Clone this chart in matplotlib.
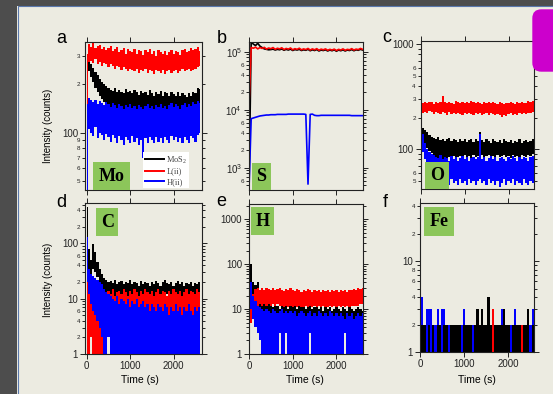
import numpy as np
import matplotlib
matplotlib.use("Agg")
import matplotlib.pyplot as plt
from matplotlib.patches import Rectangle, FancyBboxPatch
from matplotlib.lines import Line2D
from matplotlib.ticker import FixedLocator, FuncFormatter

plt.rcParams["font.family"] = ["Liberation Sans", "DejaVu Sans"]
plt.rcParams["mathtext.default"] = "regular"

W, H = 553, 394

# ---------------------------------------------------------------------------
# Data: counts in 50 s bins.
# Noisy traces are kept as (low, high) envelopes of each bin.
# ---------------------------------------------------------------------------
TIME = np.arange(0, 2601, 50)

# (a) Mo
mo_mos2_hi = [280, 285, 268, 252, 238, 228, 215, 205, 200, 195,
              190, 185, 182, 188, 178, 185, 180, 176, 186, 178,
              182, 175, 184, 178, 172, 182, 176, 180, 172, 185,
              176, 170, 180, 174, 182, 170, 178, 175, 168, 180,
              174, 170, 178, 168, 176, 172, 166, 175, 170, 180,
              176, 190, 186]
mo_mos2_lo = [120, 240, 220, 205, 190, 180, 170, 162, 155, 150,
              145, 140, 138, 142, 132, 140, 135, 130, 140, 134,
              128, 136, 132, 138, 128, 134, 130, 136, 126, 134,
              130, 128, 136, 130, 126, 134, 130, 132, 126, 134,
              128, 132, 126, 130, 128, 134, 126, 130, 132, 136,
              134, 140, 142]
mo_l_hi = [310, 355, 340, 360, 335, 345, 350, 330, 340, 325,
           335, 345, 320, 330, 340, 315, 325, 335, 310, 330,
           320, 315, 330, 310, 325, 320, 305, 325, 315, 330,
           310, 320, 300, 325, 315, 310, 320, 305, 315, 325,
           310, 320, 315, 305, 325, 330, 315, 320, 335, 325,
           330, 340, 320]
mo_l_lo = [45, 275, 280, 270, 285, 265, 275, 260, 270, 265,
           255, 265, 260, 250, 260, 255, 245, 255, 250, 240,
           250, 245, 240, 250, 235, 245, 240, 250, 235, 245,
           240, 230, 245, 240, 235, 245, 230, 240, 245, 235,
           240, 245, 235, 240, 250, 240, 245, 250, 240, 245,
           250, 255, 260]
mo_h_hi = [150, 165, 160, 155, 160, 150, 158, 152, 148, 155,
           150, 145, 152, 148, 142, 150, 146, 140, 148, 144,
           150, 142, 146, 140, 148, 144, 140, 146, 150, 142,
           146, 140, 148, 144, 150, 142, 146, 140, 148, 152,
           144, 150, 146, 140, 148, 152, 144, 150, 146, 155,
           150, 158, 152]
mo_h_lo = [44, 105, 100, 95, 108, 92, 100, 96, 90, 98,
           94, 88, 96, 92, 86, 95, 90, 84, 94, 90,
           86, 95, 88, 92, 84, 90, 70, 92, 86, 94,
           90, 86, 94, 88, 92, 86, 94, 90, 86, 95,
           90, 94, 88, 92, 86, 94, 90, 86, 95, 92,
           88, 96, 100]

# (b) S  (clean traces, single values)
s_mos2 = [430, 150000, 135000, 128000, 140000, 125000, 118000, 112000, 110000, 108000,
          109000, 111000, 107000, 110000, 108000, 112000, 106000, 110000, 107000, 111000,
          105000, 109000, 107000, 110000, 105000, 108000, 106000, 110000, 104000, 108000,
          105000, 109000, 103000, 107000, 105000, 108000, 103000, 107000, 104000, 108000,
          102000, 107000, 104000, 108000, 103000, 107000, 105000, 109000, 104000, 108000,
          106000, 110000, 107000]
s_l = [12000, 118000, 115000, 120000, 112000, 118000, 114000, 119000, 111000, 116000,
       113000, 118000, 110000, 115000, 112000, 117000, 109000, 114000, 111000, 116000,
       108000, 113000, 110000, 115000, 108000, 112000, 109000, 114000, 107000, 112000,
       108000, 113000, 106000, 111000, 108000, 112000, 106000, 110000, 107000, 111000,
       105000, 110000, 107000, 112000, 106000, 110000, 108000, 113000, 107000, 111000,
       109000, 114000, 110000]
s_h = [430, 7000, 7200, 7400, 7600, 7800, 7900, 8000, 8100, 8100,
       8200, 8200, 8200, 8300, 8300, 8300, 8300, 8300, 8400, 8400,
       8400, 8400, 8400, 8400, 8400, 8400, 8300, 520, 8300, 8400,
       8000, 7900, 7900, 8000, 8000, 8000, 8000, 8000, 8000, 8000,
       8000, 8000, 8000, 8000, 8000, 8000, 8000, 7900, 7900, 7900,
       7900, 7900, 7900]

# (c) O
o_mos2_hi = [150, 160, 152, 145, 138, 132, 128, 125, 130, 122,
             126, 120, 124, 128, 120, 125, 122, 118, 126, 120,
             124, 118, 122, 126, 118, 124, 120, 145, 122, 118,
             124, 120, 116, 124, 120, 118, 122, 116, 124, 120,
             118, 122, 116, 120, 118, 124, 116, 120, 122, 118,
             120, 124, 118]
o_mos2_lo = [95, 120, 110, 102, 96, 92, 88, 85, 80, 78,
             80, 82, 78, 84, 80, 86, 82, 84, 86, 82,
             88, 84, 86, 82, 88, 84, 86, 82, 88, 84,
             86, 88, 84, 86, 82, 88, 84, 86, 88, 84,
             86, 82, 88, 84, 86, 84, 88, 86, 84, 88,
             86, 90, 88]
o_l_hi = [250, 278, 282, 275, 285, 280, 272, 285, 278, 282,
          320, 280, 275, 285, 278, 272, 288, 280, 276, 284,
          278, 282, 274, 286, 280, 276, 284, 278, 272, 282,
          276, 280, 274, 284, 278, 272, 280, 276, 270, 278,
          274, 282, 276, 270, 280, 274, 284, 278, 276, 286,
          280, 288, 284]
o_l_lo = [70, 222, 228, 220, 230, 225, 218, 228, 222, 215,
          225, 220, 214, 226, 218, 222, 215, 224, 218, 212,
          220, 216, 224, 218, 212, 222, 216, 220, 214, 218,
          222, 214, 220, 216, 210, 218, 212, 205, 214, 208,
          216, 220, 214, 218, 212, 220, 216, 222, 218, 224,
          220, 226, 230]
o_h_hi = [1050, 140, 115, 100, 95, 90, 88, 85, 82, 88,
          80, 85, 82, 78, 86, 80, 84, 78, 82, 86,
          80, 84, 78, 82, 85, 80, 84, 140, 80, 84,
          78, 82, 86, 80, 84, 78, 82, 85, 80, 78,
          84, 80, 86, 82, 78, 84, 80, 85, 82, 78,
          84, 86, 82]
o_h_lo = [100, 95, 80, 72, 65, 60, 56, 52, 50, 54,
          48, 52, 50, 46, 52, 48, 50, 46, 52, 48,
          50, 46, 52, 48, 50, 46, 50, 52, 48, 50,
          46, 52, 48, 50, 46, 50, 44, 48, 52, 46,
          50, 48, 52, 46, 50, 48, 46, 52, 48, 46,
          50, 48, 52]

# (d) C
c_mos2_hi = [450, 80, 50, 95, 70, 45, 35, 28, 24, 22,
             20, 21, 19, 22, 18, 20, 21, 18, 20, 19,
             22, 18, 20, 19, 17, 21, 18, 20, 19, 17,
             20, 18, 21, 19, 17, 20, 22, 19, 18, 20,
             17, 19, 21, 18, 20, 17, 19, 18, 20, 17,
             19, 18, 20]
c_mos2_lo = [40, 30, 28, 35, 30, 25, 18, 16, 14, 13,
             12, 11, 12, 11, 12, 11, 12, 10, 12, 11,
             12, 11, 12, 11, 10, 12, 11, 12, 11, 10,
             12, 11, 12, 11, 10, 12, 11, 12, 11, 10,
             12, 11, 12, 11, 10, 12, 11, 12, 11, 10,
             12, 11, 12]
c_l_hi = [20, 12, 14, 10, 15, 9, 12, 10, 8, 12,
          14, 12, 15, 11, 13, 14, 12, 15, 13, 11,
          14, 12, 15, 13, 11, 14, 12, 15, 13, 12,
          14, 11, 13, 15, 12, 14, 13, 11, 14, 12,
          15, 13, 12, 14, 11, 13, 15, 12, 14, 13,
          12, 15, 13]
c_l_lo = [1, 1, 2, 1, 1, 1, 1, 1, 1, 2,
          3, 4, 3, 5, 4, 3, 5, 4, 3, 5,
          4, 3, 5, 4, 3, 4, 5, 3, 4, 5,
          3, 4, 5, 3, 4, 3, 5, 4, 3, 4,
          5, 3, 4, 5, 3, 4, 3, 5, 4, 3,
          4, 5, 4]
c_h_hi = [130, 35, 28, 26, 24, 22, 20, 18, 15, 13,
          12, 11, 10, 9, 11, 8, 10, 9, 8, 10,
          7, 9, 8, 10, 7, 8, 9, 7, 8, 6,
          8, 7, 6, 8, 7, 6, 8, 7, 5, 7,
          6, 8, 6, 7, 5, 7, 6, 8, 6, 5,
          7, 6, 7]
c_h_lo = [20, 12, 8, 6, 5, 4, 3, 2, 1, 1,
          2, 1, 1, 1, 1, 1, 1, 1, 1, 1,
          1, 1, 1, 1, 1, 1, 1, 1, 1, 1,
          1, 1, 1, 1, 1, 1, 1, 1, 1, 1,
          1, 1, 1, 1, 1, 1, 1, 1, 1, 1,
          1, 1, 1]

# (e) H
h_mos2_hi = [2000, 100, 40, 35, 40, 25, 20, 15, 14, 13,
             12, 11, 13, 12, 10, 12, 11, 13, 10, 12,
             11, 12, 10, 13, 11, 12, 10, 11, 12, 10,
             11, 12, 10, 11, 9, 12, 10, 11, 9, 10,
             11, 10, 9, 11, 10, 9, 11, 10, 9, 10,
             11, 10, 9]
h_mos2_lo = [30, 20, 15, 12, 10, 9, 8, 7, 1, 6,
             6, 5, 6, 5, 6, 5, 6, 5, 6, 5,
             6, 5, 6, 5, 6, 5, 6, 5, 6, 5,
             6, 5, 6, 5, 6, 5, 6, 5, 6, 5,
             6, 5, 1, 5, 6, 5, 6, 5, 6, 5,
             6, 5, 6]
h_l_hi = [35, 25, 22, 28, 30, 27, 29, 26, 30, 28,
          27, 29, 26, 28, 30, 27, 25, 28, 26, 29,
          27, 25, 28, 26, 24, 27, 25, 28, 26, 24,
          27, 25, 26, 24, 27, 25, 26, 24, 27, 25,
          26, 24, 27, 25, 26, 24, 27, 26, 28, 27,
          29, 28, 30]
h_l_lo = [5, 5, 8, 11, 12, 13, 12, 13, 12, 13,
          12, 13, 12, 13, 12, 12, 11, 12, 11, 12,
          11, 12, 11, 12, 11, 11, 12, 11, 12, 11,
          12, 11, 12, 11, 12, 11, 11, 12, 11, 12,
          11, 12, 11, 12, 11, 12, 11, 12, 12, 12,
          12, 13, 13]
h_h_hi = [1500, 40, 20, 15, 12, 11, 10, 9, 10, 9,
          8, 10, 9, 8, 9, 10, 8, 9, 8, 9,
          8, 9, 7, 8, 9, 8, 7, 8, 9, 7,
          8, 7, 9, 8, 7, 8, 7, 9, 8, 7,
          8, 7, 8, 7, 6, 8, 7, 8, 6, 7,
          8, 7, 8]
h_h_lo = [20, 10, 6, 4, 3, 2, 1, 1, 1, 1,
          1, 1, 1, 1, 3, 1, 1, 3, 1, 1,
          1, 1, 1, 1, 1, 1, 1, 1, 3, 1,
          1, 1, 1, 1, 1, 1, 1, 1, 1, 1,
          1, 1, 1, 1, 3, 1, 1, 1, 1, 1,
          1, 1, 1]

# (f) Fe  (integer counts; floor of one count)
fe_floor = [1, 1, 1, 1, 1, 1, 1, 1, 1, 1,
            1, 1, 1, 1, 1, 1, 1, 1, 1, 1,
            1, 1, 1, 1, 1, 1, 1, 1, 1, 1,
            1, 1, 1, 1, 1, 1, 1, 1, 1, 1,
            1, 1, 1, 1, 1, 1, 1, 1, 1, 1,
            1, 1, 1]
fe_mos2_hi = [9, 2, 2, 1, 2, 1, 2, 1, 2, 2,
              1, 2, 2, 1, 2, 2, 2, 2, 2, 1,
              2, 2, 2, 2, 1, 2, 3, 2, 3, 2,
              2, 4, 2, 1, 2, 2, 2, 2, 3, 2,
              2, 1, 2, 2, 2, 2, 1, 2, 2, 3,
              1, 2, 2]
fe_l_hi = [2, 2, 2, 1, 2, 1, 2, 1, 2, 2,
           1, 2, 2, 1, 2, 2, 2, 2, 2, 1,
           2, 2, 2, 2, 1, 2, 2, 2, 2, 2,
           2, 2, 2, 3, 2, 2, 2, 2, 2, 2,
           2, 1, 2, 2, 2, 2, 2, 2, 2, 2,
           1, 2, 2]
fe_h_hi = [45, 4, 2, 3, 3, 3, 2, 2, 3, 2,
           3, 3, 2, 2, 2, 2, 2, 2, 2, 2,
           3, 2, 2, 2, 2, 2, 2, 2, 2, 2,
           2, 2, 2, 2, 2, 2, 2, 3, 2, 2,
           2, 2, 2, 3, 2, 2, 2, 2, 2, 2,
           2, 3, 2]

SERIES_LABELS = ["MoS$_2$", "L(ii)", "H(ii)"]
SERIES_COLORS = ["black", "#ff0000", "#0000ff"]

# ---------------------------------------------------------------------------
# Panel layout (pixel boxes: x0, y0, x1, y1 from top-left)
# ---------------------------------------------------------------------------
PANELS = [
    dict(letter="a", elem="Mo", box=(85, 41.7, 202, 190), xlim=(-40, 2650), ylim=(44, 367),
         bands=((mo_mos2_lo, mo_mos2_hi), (mo_l_lo, mo_l_hi), (mo_h_lo, mo_h_hi)),
         order=(1, 2, 3), majors={100: "100"}, minors={50, 60, 70, 80, 90, 200, 300},
         tag=(92.7, 161.7, 130, 190), letter_xy=(61, 43)),
    dict(letter="b", elem="S", box=(249, 41.7, 363.3, 190), xlim=(0, 2615), ylim=(412, 1.49e5),
         lines=(s_mos2, s_l, s_h), order=(1, 2, 3),
         majors={1e3: "$10^{3}$", 1e4: "$10^{4}$", 1e5: "$10^{5}$"},
         minors={400, 600, 2000, 4000, 6000, 20000, 40000, 60000},
         tag=(251.7, 162.7, 271, 190), letter_xy=(221.5, 43)),
    dict(letter="c", elem="O", box=(420.7, 40.7, 534.3, 189.3), xlim=(0, 2586), ylim=(41.6, 1082),
         bands=((o_mos2_lo, o_mos2_hi), (o_l_lo, o_l_hi), (o_h_lo, o_h_hi)),
         order=(2, 1, 3), majors={100: "100", 1000: "1000"},
         minors={50, 60, 200, 300, 400, 500, 600},
         tag=(425, 161.7, 449.3, 189.3), letter_xy=(386.5, 42)),
    dict(letter="d", elem="C", box=(85, 202.7, 201.7, 354), xlim=(-40, 2650), ylim=(1, 540),
         bands=((c_mos2_lo, c_mos2_hi), (c_l_lo, c_l_hi), (c_h_lo, c_h_hi)),
         order=(1, 2, 3), majors={1: "1", 10: "10", 100: "100"},
         minors={2, 4, 6, 20, 40, 60, 200, 400},
         tag=(96, 207.7, 118.3, 235.7), letter_xy=(61, 206.5)),
    dict(letter="e", elem="H", box=(249, 204.3, 363.3, 354), xlim=(0, 2615), ylim=(1, 2160),
         bands=((h_mos2_lo, h_mos2_hi), (h_l_lo, h_l_hi), (h_h_lo, h_h_hi)),
         order=(1, 2, 3), majors={1: "1", 10: "10", 100: "100", 1000: "1000"}, minors=set(),
         tag=(251, 206.7, 274, 235), letter_xy=(221.5, 206)),
    dict(letter="f", elem="Fe", box=(420, 202.7, 534.3, 352.3), xlim=(0, 2586), ylim=(1, 43.6),
         bands=((fe_floor, fe_mos2_hi), (fe_floor, fe_l_hi), (fe_floor, fe_h_hi)),
         order=(3, 2, 1), majors={1: "1", 10: "10"}, minors={2, 4, 6, 8, 20, 40},
         tag=(424.3, 206.7, 454, 235.7), letter_xy=(385.5, 206.5)),
]

BG = "#ecebe1"
TAG_GREEN = "#8cc65a"


def fx(x):
    return x / W


def fy(y):
    return 1 - y / H


fig = plt.figure(figsize=(W / 100, H / 100), dpi=100, facecolor=BG)

# textured slide border (flat grey here) and its blue edge
fig.add_artist(Rectangle((0, 0), fx(17.3), 1, transform=fig.transFigure,
                         facecolor="#4d4d4d", edgecolor="none", zorder=-5))
fig.add_artist(Rectangle((0, fy(6)), 1, 6 / H, transform=fig.transFigure,
                         facecolor="#4d4d4d", edgecolor="none", zorder=-5))
fig.add_artist(Line2D([fx(17.5), fx(17.5), 1], [0, fy(6.3), fy(6.3)],
                      transform=fig.transFigure, color="#5a78ad", lw=0.8, zorder=-4))


def minor_ticks(lo, hi):
    vals = []
    for n in range(-1, 7):
        for k in range(2, 10):
            v = k * 10.0 ** n
            if lo <= v <= hi:
                vals.append(v)
    return vals


def make_minor_fmt(labelled):
    def fmt(v, pos):
        for m in labelled:
            if abs(v - m) / m < 1e-6:
                return str(int(round(v / 10 ** np.floor(np.log10(v) + 1e-9))))
        return ""
    return fmt


def make_major_fmt(majors):
    def fmt(v, pos):
        for m, s in majors.items():
            if abs(v - m) / m < 1e-6:
                return s
        return ""
    return fmt


axes = []
for i, p in enumerate(PANELS):
    x0, y0, x1, y1 = p["box"]
    ax = fig.add_axes([fx(x0), fy(y1), (x1 - x0) / W, (y1 - y0) / H])
    ax.set_facecolor("none")
    ax.set_yscale("log")
    if "bands" in p:
        for (lo, hi), color, z in zip(p["bands"], SERIES_COLORS, p["order"]):
            ax.fill_between(TIME, lo, hi, step="mid", color=color, lw=0,
                            antialiased=True, zorder=z)
    else:
        for vals, color, z in zip(p["lines"], SERIES_COLORS, p["order"]):
            ax.plot(TIME, vals, color=color, lw=1.2, zorder=z)
    ax.set_xlim(*p["xlim"])
    ax.set_ylim(*p["ylim"])

    ax.xaxis.set_major_locator(FixedLocator([0, 1000, 2000]))
    ax.yaxis.set_major_locator(FixedLocator(list(p["majors"].keys())))
    ax.yaxis.set_major_formatter(FuncFormatter(make_major_fmt(p["majors"])))
    ax.yaxis.set_minor_locator(FixedLocator(minor_ticks(*p["ylim"])))
    ax.yaxis.set_minor_formatter(FuncFormatter(make_minor_fmt(p["minors"])))
    ax.xaxis.set_minor_locator(FixedLocator([]))

    ax.tick_params(which="both", direction="out", top=True, right=True,
                   width=0.7, colors="#222222", pad=1.5)
    ax.tick_params(which="major", length=3.5, labelsize=7)
    ax.tick_params(which="minor", length=2, labelsize=4.5)
    if i < 3:
        ax.tick_params(axis="x", labelbottom=False)
    for s in ax.spines.values():
        s.set_linewidth(0.8)
        s.set_color("#222222")
        s.set_zorder(6)

    # panel letter
    lx, ly = p["letter_xy"]
    fig.text(fx(lx), fy(ly), p["letter"], fontsize=13, ha="center", va="baseline")

    # element tag
    tx0, ty0, tx1, ty1 = p["tag"]
    fig.add_artist(Rectangle((fx(tx0), fy(ty1)), (tx1 - tx0) / W, (ty1 - ty0) / H,
                             transform=fig.transFigure, facecolor=TAG_GREEN,
                             edgecolor="none", zorder=10))
    fig.text(fx((tx0 + tx1) / 2), fy((ty0 + ty1) / 2 + 0.5), p["elem"],
             family=["Liberation Serif", "DejaVu Serif"], fontweight="bold",
             fontsize=13, ha="center", va="center", zorder=11)
    axes.append(ax)

# axis titles
for yc in (126, 280):
    fig.text(fx(48.5), fy(yc), "Intensity (counts)", rotation=90, fontsize=7,
             ha="center", va="center")
for xc in (140, 305.3, 476.5):
    fig.text(fx(xc), fy(380), "Time (s)", fontsize=7.5, ha="center", va="center")

# legend in panel a
handles = [Line2D([], [], color=c, lw=1.4) for c in SERIES_COLORS]
leg = axes[0].legend(handles, SERIES_LABELS, loc="upper left",
                     bbox_to_anchor=(fx(142.7), fy(152.3)),
                     bbox_transform=fig.transFigure, frameon=True, fancybox=False,
                     framealpha=1, edgecolor="none", facecolor="white",
                     prop=dict(family=["Liberation Serif", "DejaVu Serif"], size=6),
                     handlelength=2.3, handletextpad=0.3, labelspacing=0.25,
                     borderpad=0.25, borderaxespad=0)
for txt in leg.get_texts():
    txt.set_color("#444444")
leg.set_zorder(12)

# magenta tab at the top right
fig.add_artist(FancyBboxPatch((532.3, H - 71.7), 40, 62.4,
                              boxstyle="round,pad=0,rounding_size=9",
                              transform=None, facecolor="#cc00cc",
                              edgecolor="none", zorder=20))

fig.savefig("out.png", dpi=100, facecolor=BG)
